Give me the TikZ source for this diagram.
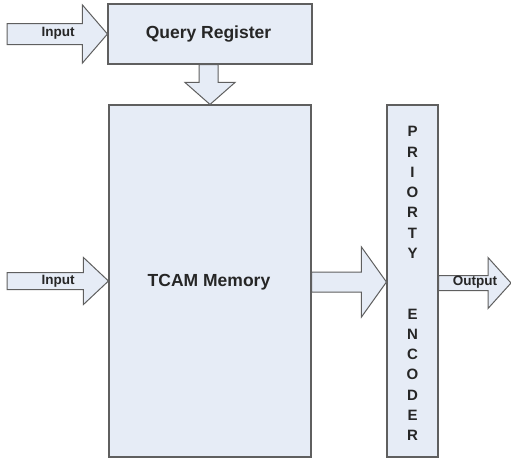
\documentclass[tikz,border=0pt]{standalone}
\usepackage{fontspec}
\setmainfont{Liberation Sans}
\usetikzlibrary{calc}
\definecolor{boxfill}{RGB}{230,236,246}
\definecolor{boxline}{RGB}{95,95,95}
\tikzset{
  blockbox/.style={draw=boxline, fill=boxfill, line width=1.1pt, inner sep=0pt},
  blk/.style={draw=boxline, fill=boxfill, line width=1pt, line join=miter},
  bigtext/.style={font=\bfseries\fontsize{17.5}{20}\selectfont, text=black!85},
  smalltext/.style={font=\bfseries\fontsize{13.5}{15}\selectfont, text=black!85},
}
% right-pointing block arrow: #1 start, #2 tip, #3 shaft half, #4 head half, #5 head length
\newcommand{\rblockarrow}[5]{%
  \draw[blk] let \p1=#1, \p2=#2 in
    (\x1,\y2-#3) -- (\x2-#5,\y2-#3) -- (\x2-#5,\y2-#4) -- (\x2,\y2)
    -- (\x2-#5,\y2+#4) -- (\x2-#5,\y2+#3) -- (\x1,\y2+#3) -- cycle;}
\begin{document}
\begin{tikzpicture}[x=1pt,y=-1pt]
\useasboundingbox (0,0) rectangle (511,461);

% boxes
\node[blockbox, minimum width=204pt, minimum height=60pt] (qr) at (210,34) {};
\node[bigtext] (qrlabel) at (208.5,34) {Query Register};
\node[blockbox, minimum width=202pt, minimum height=352pt] (tcam) at (210,281) {};
\node[bigtext] (tcamlabel) at (209,282) {TCAM Memory};
\node[blockbox, minimum width=51pt, minimum height=352pt] (pe) at (412.5,281) {};
\node[align=center, font=\bfseries\fontsize{15}{20.25}\selectfont, text=black!85]
  (pelabel) at (412.5,283.5) {P\\R\\I\\O\\R\\T\\Y\\~\\~\\E\\N\\C\\O\\D\\E\\R};

% free ends
\coordinate (in1) at (7,34);
\coordinate (in2) at (7,282);
\coordinate (outtip) at (511,283);

% top input arrow
\rblockarrow{(in1)}{(qr.west)}{10.5}{29}{25}
\node[smalltext] (inlabel1) at (58,33) {Input};

% query register -> TCAM (down)
\draw[blk] let \p1=(qr.south), \p2=(tcam.north) in
  (\x1-11,\y1) -- (\x1+8,\y1) -- (\x1+8,\y2+22) -- (\x1+25,\y2+22) -- (\x2,\y2)
  -- (\x1-25,\y2+22) -- (\x1-11,\y2+22) -- cycle;

% left input arrow
\rblockarrow{(in2)}{(tcam.west)}{8.5}{23.5}{25}
\node[smalltext] (inlabel2) at (58,281.5) {Input};

% TCAM -> priority encoder
\rblockarrow{(tcam.east)}{($(pe.west)+(0,1)$)}{10}{35}{25}
% priority encoder -> output
\rblockarrow{(pe.east)}{(outtip)}{7.5}{25.5}{23}
\node[smalltext] (outlabel) at (475,282.5) {Output};
\end{tikzpicture}
\end{document}
